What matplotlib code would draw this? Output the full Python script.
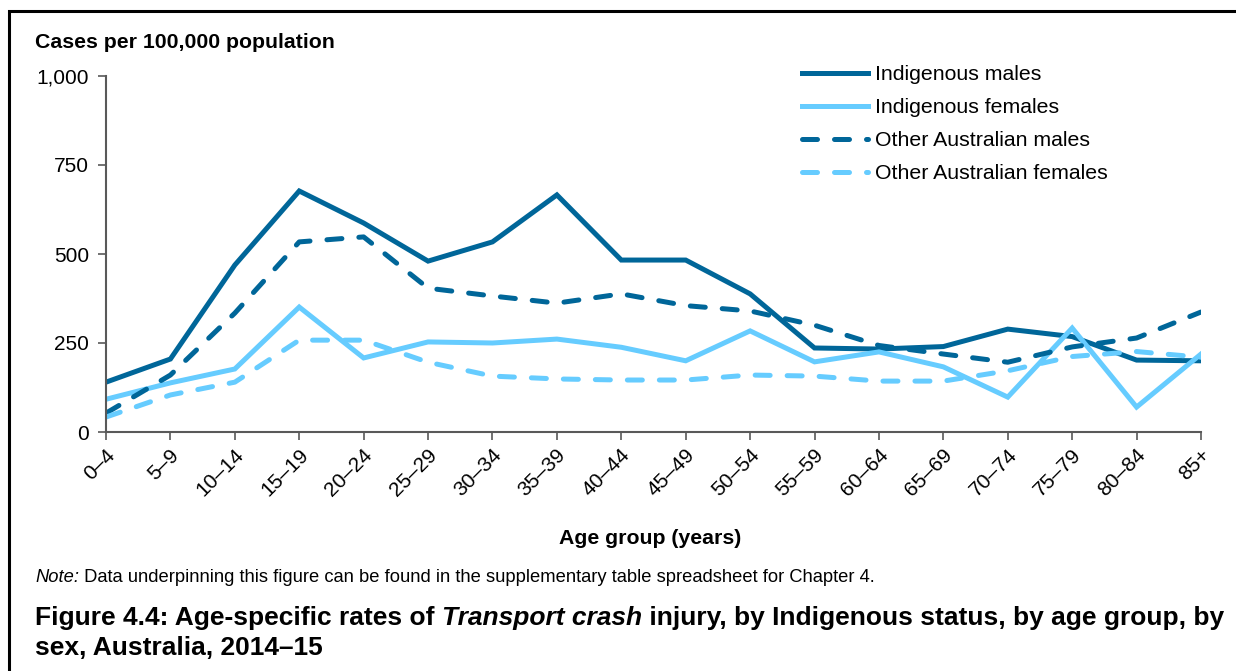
import matplotlib
matplotlib.use("Agg")
import matplotlib.pyplot as plt
import matplotlib.transforms as mtransforms
from matplotlib.patches import Rectangle
import numpy as np

plt.rcParams['font.family'] = ['Liberation Sans', 'DejaVu Sans']

# age groups along the x axis
age_groups = ['0–4', '5–9', '10–14', '15–19', '20–24', '25–29', '30–34', '35–39',
              '40–44', '45–49', '50–54', '55–59', '60–64', '65–69', '70–74',
              '75–79', '80–84', '85+']

# rates per 100,000 population
indig_males = [140, 205, 469, 677, 587, 480, 534, 666, 483, 483, 388, 236, 233,
               240, 289, 268, 202, 200]
indig_females = [92, 138, 177, 351, 208, 253, 250, 261, 238, 200, 284, 197, 225,
                 183, 98, 292, 70, 219]
other_males = [53, 160, 334, 534, 548, 404, 382, 362, 388, 355, 340, 300, 243,
               219, 196, 239, 264, 337]
other_females = [42, 104, 140, 258, 258, 196, 157, 149, 146, 146, 160, 157, 143,
                 143, 172, 212, 226, 210]

y_ticks = [0, 250, 500, 750, 1000]
y_tick_labels = ['0', '250', '500', '750', '1,000']

dark = '#006699'
light = '#66CCFF'

fig = plt.figure(figsize=(12.36, 6.71), dpi=100)
ax = fig.add_axes([106 / 1236, 1 - 432 / 671, (1201 - 106) / 1236, (432 - 76) / 671])

x = np.arange(len(age_groups))
lw = 3.6
ax.plot(x, indig_males, color=dark, lw=lw, label='Indigenous males',
        solid_joinstyle='miter')
ax.plot(x, indig_females, color=light, lw=lw, label='Indigenous females',
        solid_joinstyle='miter')
ax.plot(x, other_males, color=dark, lw=lw, dashes=(3.0, 3.4),
        dash_capstyle='round', label='Other Australian males')
ax.plot(x, other_females, color=light, lw=lw, dashes=(3.0, 3.4),
        dash_capstyle='round', label='Other Australian females')

ax.set_xlim(0, len(age_groups) - 1)
ax.set_ylim(0, 1000)
ax.set_xticks(x)
ax.set_xticklabels([])
# rotated category labels, end of the text sitting just right of each tick
lab_tr = ax.get_xaxis_transform() + mtransforms.ScaledTranslation(
    0.06, -0.20, fig.dpi_scale_trans)
for i, lab in enumerate(age_groups):
    ax.text(i, 0, lab, transform=lab_tr, rotation=45, ha='right', va='center',
            rotation_mode='anchor', fontsize=15, clip_on=False)
ax.set_yticks(y_ticks)
ax.set_yticklabels(y_tick_labels, fontsize=15)
ax.tick_params(axis='both', direction='out', length=6, width=1.2, color='#595959')
ax.tick_params(axis='y', pad=6)
for s in ['top', 'right']:
    ax.spines[s].set_visible(False)
for s in ['left', 'bottom']:
    ax.spines[s].set_color('#595959')
    ax.spines[s].set_linewidth(1.5)

ax.legend(loc='upper left', bbox_to_anchor=(0.618, 1.084), frameon=False,
          fontsize=15.3, handlelength=3.1, handletextpad=0.33, labelspacing=0.66)

fig.text(35 / 1236, 1 - 42 / 671, 'Cases per 100,000 population', fontsize=15.3,
         fontweight='bold', va='center')
fig.text(650 / 1236, 1 - 538 / 671, 'Age group (years)', fontsize=15.3,
         fontweight='bold', ha='center', va='center')


def text_run(x0, y0, pieces, size):
    # place text pieces one after another on a line
    r = fig.canvas.get_renderer()
    xp = x0
    for txt, weight, style in pieces:
        t = fig.text(xp, y0, txt, fontsize=size, fontweight=weight, fontstyle=style,
                     va='center')
        bb = t.get_window_extent(renderer=r)
        xp = bb.x1 / fig.bbox.width


text_run(35 / 1236, 1 - 577 / 671,
         [('Note:', 'normal', 'italic'),
          (' Data underpinning this figure can be found in the supplementary '
           'table spreadsheet for Chapter 4.', 'normal', 'normal')], 13.2)
text_run(35 / 1236, 1 - 618 / 671,
         [('Figure 4.4: Age-specific rates of ', 'bold', 'normal'),
          ('Transport crash', 'bold', 'italic'),
          (' injury, by Indigenous status, by age group, by', 'bold', 'normal')], 19.0)
fig.text(35 / 1236, 1 - 648 / 671, 'sex, Australia, 2014–15', fontsize=19.0,
         fontweight='bold', va='center')

fig.patches.append(Rectangle((9 / 1236, -0.1), 1.2, 1 - 11 / 671 + 0.1,
                             transform=fig.transFigure, fill=False,
                             edgecolor='black', lw=2.2))

fig.savefig('out.png', dpi=100)
